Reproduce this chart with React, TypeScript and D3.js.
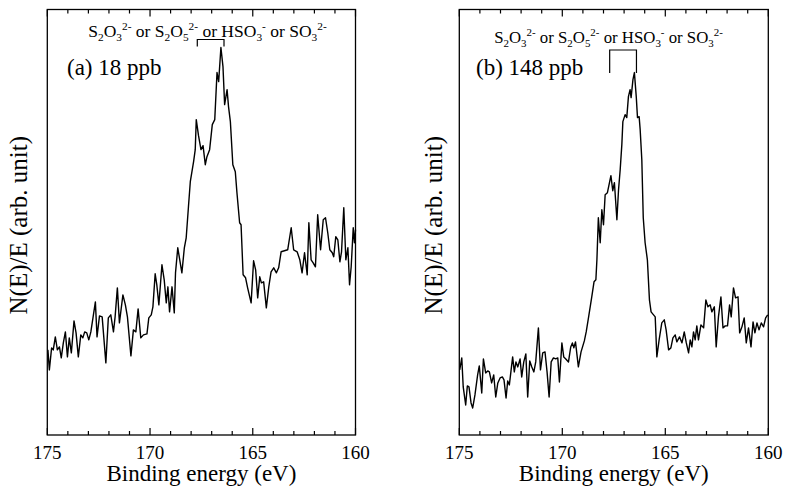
import React from "react";
import * as d3 from "d3";

// ---- data (binding energy in eV, intensity in arbitrary units) ----
const energiesA = [174.97,174.90,174.79,174.71,174.61,174.51,174.41,174.32,174.22,174.12,
174.02,173.93,173.83,173.70,173.60,173.49,173.37,173.27,173.18,173.08,
172.98,172.88,172.66,172.58,172.46,172.33,172.15,172.03,171.91,171.78,
171.70,171.59,171.49,171.32,171.20,171.10,170.93,170.81,170.69,170.58,
170.45,170.32,170.15,170.06,169.94,169.86,169.75,169.67,169.57,169.42,
169.31,169.21,169.13,169.05,168.93,168.82,168.76,168.65,168.45,168.33,
168.24,168.13,168.04,167.88,167.80,167.75,167.64,167.52,167.42,167.31,
167.23,167.10,166.97,166.85,166.74,166.66,166.55,166.45,166.37,166.25,
166.18,166.09,165.97,165.85,165.77,165.64,165.57,165.47,165.35,165.25,
165.08,164.96,164.86,164.76,164.66,164.58,164.47,164.34,164.22,164.11,
163.98,163.85,163.74,163.62,163.46,163.30,163.13,163.01,162.84,162.71,
162.60,162.48,162.35,162.27,162.16,162.06,161.95,161.84,161.70,161.57,
161.46,161.35,161.25,161.13,161.06,160.96,160.86,160.76,160.68,160.57,
160.47,160.37,160.29,160.21,160.11,160.05,160.00];

const intensitiesA = [85,65,87,85,98,85,88,77,92,103,
78,97,82,114,102,78,100,97,103,102,
95,103,133,98,119,118,72,117,120,103,
118,147,112,140,130,118,79,105,103,126,
97,100,101,117,120,128,161,150,130,170,
155,132,148,123,148,122,162,187,162,187,
197,228,253,273,285,315,299,285,289,270,
278,285,310,315,362,353,387,368,330,345,
328,313,270,263,242,212,210,160,157,147,
132,174,165,137,158,152,153,127,148,163,
167,162,167,183,184,185,207,185,183,175,
162,182,160,212,175,172,168,220,185,215,
217,202,185,182,178,198,195,173,183,227,
175,187,150,168,207,192,205];

const energiesB = [174.98,174.88,174.81,174.69,174.61,174.53,174.43,174.35,174.24,174.11,
174.03,173.91,173.83,173.72,173.62,173.54,173.43,173.33,173.23,173.13,
173.02,172.91,172.83,172.73,172.65,172.57,172.49,172.41,172.33,172.25,
172.16,172.05,171.97,171.87,171.77,171.68,171.58,171.48,171.38,171.29,
171.16,171.06,170.95,170.84,170.74,170.64,170.54,170.43,170.32,170.22,
170.14,170.02,169.93,169.83,169.70,169.59,169.51,169.44,169.36,169.22,
169.09,168.93,168.84,168.73,168.57,168.46,168.37,168.32,168.25,168.16,
168.08,168.00,167.92,167.81,167.71,167.64,167.55,167.47,167.35,167.27,
167.19,167.11,167.06,166.95,166.87,166.79,166.71,166.66,166.57,166.50,
166.41,166.35,166.27,166.22,166.14,166.07,165.98,165.87,165.77,165.69,
165.57,165.49,165.41,165.30,165.17,165.05,164.96,164.84,164.73,164.63,
164.52,164.44,164.31,164.19,164.08,163.98,163.87,163.79,163.71,163.63,
163.55,163.47,163.39,163.27,163.14,163.03,162.93,162.82,162.74,162.62,
162.53,162.42,162.30,162.20,162.09,161.98,161.88,161.80,161.69,161.59,
161.47,161.39,161.28,161.17,161.07,160.96,160.84,160.74,160.65,160.55,
160.45,160.34,160.23,160.13,160.03];

const intensitiesB = [65,77,48,30,49,48,32,27,40,60,
69,42,76,62,64,63,52,60,38,52,
57,58,55,37,54,50,64,78,63,73,
68,76,58,73,81,38,74,68,63,73,
107,65,82,83,63,38,73,77,76,77,
53,92,78,76,73,88,92,87,93,68,
83,94,103,117,138,153,155,175,217,192,
225,210,240,242,252,259,244,252,215,245,
265,290,313,320,317,338,345,337,355,362,
338,317,318,305,275,217,192,175,135,123,
120,118,78,95,112,115,105,85,87,97,
100,93,98,92,103,92,82,95,88,103,
95,109,95,110,107,135,128,130,123,128,
88,118,138,107,109,109,130,118,147,137,
138,102,108,117,92,107,88,113,102,112,
105,112,108,117,120];

const xDomain = [175, 160];
const xTickLabels = [175, 170, 165, 160];
const bracketRange = [167.7, 166.4];
const panelLabels = ["(a) 18 ppb", "(b) 148 ppb"];
const xTitle = "Binding energy (eV)";
const yTitle = "N(E)/E (arb. unit)";
const annotation: [string, "n" | "sub" | "sup"][] = [
  ["S", "n"], ["2", "sub"], ["O", "n"], ["3", "sub"], ["2-", "sup"],
  [" or S", "n"], ["2", "sub"], ["O", "n"], ["5", "sub"], ["2-", "sup"],
  [" or HSO", "n"], ["3", "sub"], ["-", "sup"],
  [" or SO", "n"], ["3", "sub"], ["2-", "sup"],
];

const FONT = '"Liberation Serif", "Times New Roman", Times, serif';
const txt = (size: number): React.CSSProperties => ({ fontFamily: FONT, fontSize: size });

function Annotation({ cx, y, size }: { cx: number; y: number; size: number }) {
  const off = { n: 0, sub: size * 0.25, sup: -size * 0.42 };
  let prev = 0;
  return (
    <text x={cx} y={y} textAnchor="middle" style={{ ...txt(size), whiteSpace: "pre" }}>
      {annotation.map(([t, k], i) => {
        const o = off[k];
        const dy = o - prev;
        prev = o;
        return (
          <tspan key={i} dy={dy} style={{ fontSize: k === "n" ? size : size * 0.65 }}>
            {t}
          </tspan>
        );
      })}
    </text>
  );
}

function Panel(props: {
  left: number; right: number; energies: number[]; intensities: number[];
  label: string; labelX: number; annotX: number; annotY: number; annotSize: number;
  bracketTop: number; bracketBottom: number; yTitleX: number;
}) {
  const top = 9.5, bottom = 435;
  const x = d3.scaleLinear().domain(xDomain).range([props.left, props.right]);
  const y = d3.scaleLinear().domain([0, 425]).range([bottom, top]);
  const pts = props.energies.map((e, i) => [e, props.intensities[i]] as [number, number]);
  const line = d3.line<[number, number]>().x(d => x(d[0])).y(d => y(d[1]));
  const ticks = d3.range(160, 176);
  const bx0 = x(bracketRange[0]), bx1 = x(bracketRange[1]);
  const mid = (props.left + props.right) / 2;
  return (
    <g>
      <rect x={props.left} y={top} width={props.right - props.left} height={bottom - top}
        fill="none" stroke="#000" strokeWidth={1.3} />
      {ticks.map(t => {
        const len = t % 5 === 0 ? 7 : 4;
        return (
          <g key={t}>
            <line x1={x(t)} x2={x(t)} y1={top} y2={top + len} stroke="#000" strokeWidth={1.2} />
            <line x1={x(t)} x2={x(t)} y1={bottom} y2={bottom - len} stroke="#000" strokeWidth={1.2} />
          </g>
        );
      })}
      {xTickLabels.map(t => (
        <text key={t} x={x(t)} y={459} textAnchor="middle" style={txt(19)}>{t}</text>
      ))}
      <text x={mid} y={481} textAnchor="middle" style={txt(23)}>{xTitle}</text>
      <text transform={`translate(${props.yTitleX},${(top + bottom) / 2 + 3}) rotate(-90)`}
        textAnchor="middle" style={txt(25)}>{yTitle}</text>
      <path d={line(pts) || ""} fill="none" stroke="#000" strokeWidth={1.4} strokeLinejoin="round" />
      <text x={props.labelX} y={75} style={txt(23)}>{props.label}</text>
      <Annotation cx={props.annotX} y={props.annotY} size={props.annotSize} />
      <path d={`M${bx0},${props.bracketBottom}V${props.bracketTop}H${bx1}V${props.bracketBottom}`}
        fill="none" stroke="#000" strokeWidth={1.2} />
    </g>
  );
}

export default function App() {
  return (
    <svg width={785} height={491} style={{ position: "absolute", left: 0, top: 0, background: "#fff" }}>
      <rect width={785} height={491} fill="#fff" />
      <Panel left={47.3} right={355.5} energies={energiesA} intensities={intensitiesA}
        label={panelLabels[0]} labelX={67} annotX={207.5} annotY={37} annotSize={17.5}
        bracketTop={39.5} bracketBottom={46.5} yTitleX={27} />
      <Panel left={459.3} right={768.3} energies={energiesB} intensities={intensitiesB}
        label={panelLabels[1]} labelX={476} annotX={608.5} annotY={43} annotSize={16.8}
        bracketTop={50} bracketBottom={73} yTitleX={442} />
    </svg>
  );
}
